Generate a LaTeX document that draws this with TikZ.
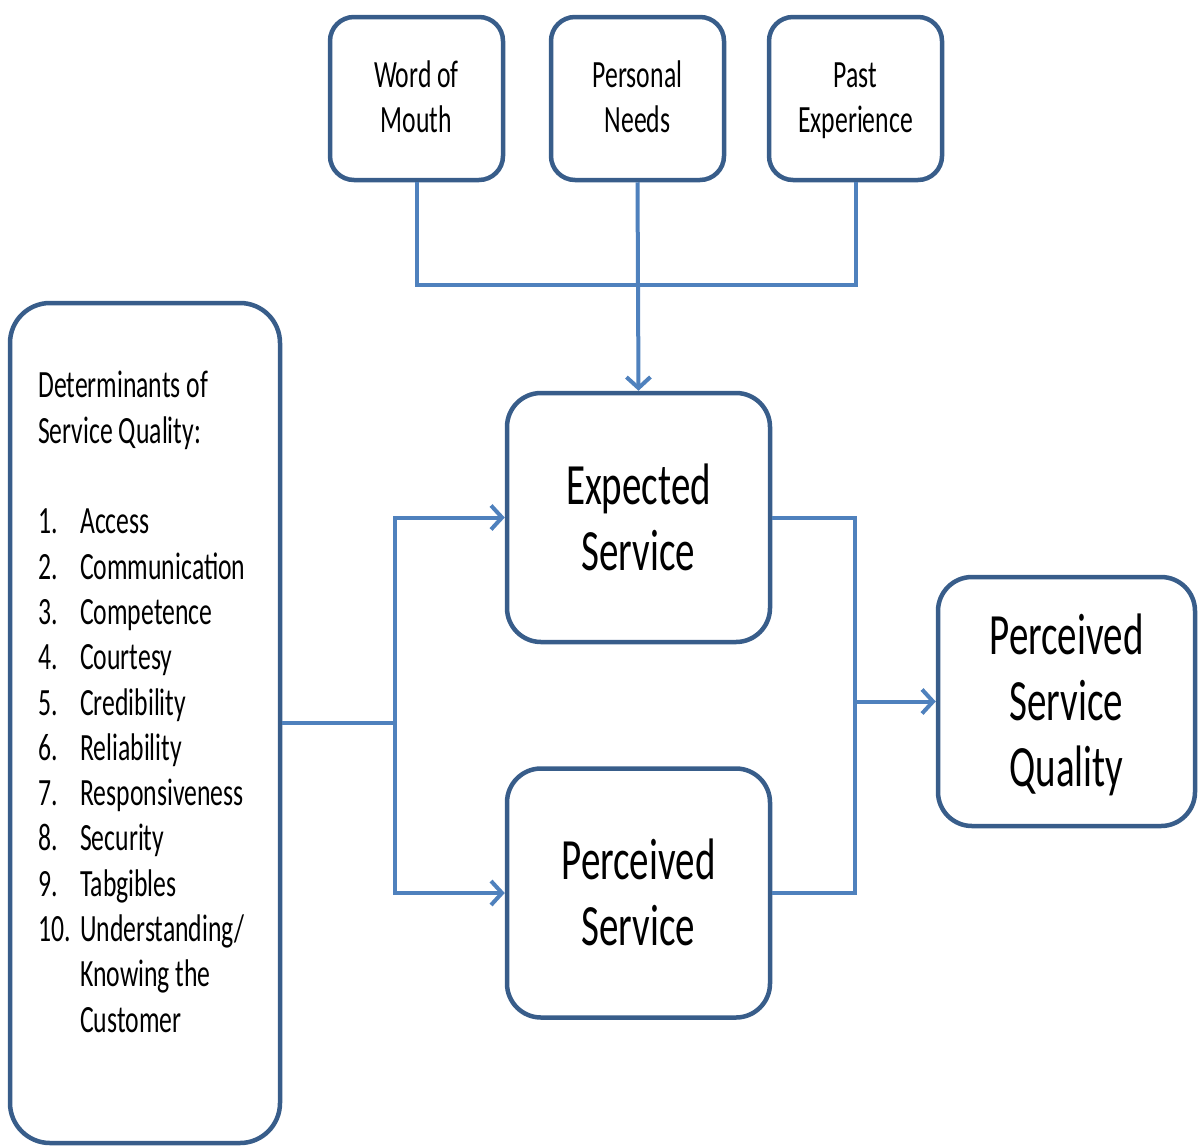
\documentclass[tikz,border=0pt]{standalone}
\usepackage{graphicx}
\usepackage{fontspec}
\setmainfont{Carlito}
\usetikzlibrary{arrows.meta}
\usetikzlibrary{positioning}

\definecolor{boxblue}{RGB}{56,93,138}
\definecolor{linkblue}{RGB}{79,129,189}

\newcommand{\stretched}[2][0pt]{\raisebox{#1}[\height][\depth]{\scalebox{1}[1.5]{\begin{tabular}{@{}c@{}}#2\end{tabular}}}}
\newcommand{\itm}[2]{\makebox[42pt][l]{#1}#2}

\tikzset{
  box/.style={draw=boxblue, line width=4.5pt, fill=white, align=center, inner sep=0pt},
  smallbox/.style={box, rounded corners=24pt, minimum width=173pt, minimum height=163pt,
    font=\fontsize{25.7}{30}\selectfont},
  bigbox/.style={box, rounded corners=34pt, minimum width=263pt, minimum height=249pt,
    font=\fontsize{39}{44}\selectfont},
  link/.style={draw=linkblue, line width=4pt},
  arrowlink/.style={link, -{Straight Barb[length=11pt,width=24pt]}}
}

\begin{document}
\begin{tikzpicture}[x=1pt,y=-1pt]
\useasboundingbox (0,0) rectangle (1198,1146);
% top row
\node [smallbox] (wom) at (416.5,98.5) {\stretched[-2pt]{Word of\\Mouth}};
\node [smallbox] (pn) at (637.5,98.5) {\stretched[-2pt]{Personal\\Needs}};
\node [smallbox] (pe) at (855.5,98.5) {\stretched[-2pt]{Past\\Experience}};
% middle
\node [bigbox] (exp) at (638.5,517.5) {\stretched[-7pt]{Expected\\Service}};
\node [bigbox] (perc) at (638.5,893) {\stretched[-6pt]{Perceived\\Service}};
\node [bigbox, minimum width=257pt] (psq) at (1066.5,701.5) {\stretched[-6pt]{Perceived\\Service\\Quality}};
% determinants
\node [box, rounded corners=40pt, minimum width=270pt, minimum height=840pt] (det) at (145,723) {};
\node [anchor=north west, inner sep=0pt, font=\fontsize{25.7}{30.2}\selectfont] (dettext) at (38,366)
  {\scalebox{1}[1.5]{\begin{tabular}{@{}l@{}}
   Determinants of\\
   Service Quality:\\
   \\
   \itm{1.}{Access}\\
   \itm{2.}{Communication}\\
   \itm{3.}{Competence}\\
   \itm{4.}{Courtesy}\\
   \itm{5.}{Credibility}\\
   \itm{6.}{Reliability}\\
   \itm{7.}{Responsiveness}\\
   \itm{8.}{Security}\\
   \itm{9.}{Tabgibles}\\
   \itm{10.}{Understanding/}\\
   \itm{}{Knowing the}\\
   \itm{}{Customer}
  \end{tabular}}};
% connectors
\coordinate (hub) at (637.5,285);
\coordinate (split) at (395,723);
\coordinate (join) at (855,701.5);
\draw [link] (wom.south) |- (hub) -| (pe.south);
\draw [arrowlink] (pn.south) -- (exp.north);
\draw [link] (det.east) -- (split);
\draw [arrowlink] (split) |- (exp.west);
\draw [arrowlink] (split) |- (perc.west);
\draw [link] (exp.east) -| (join);
\draw [link] (perc.east) -| (join);
\draw [arrowlink] (join) -- (psq.west);
\end{tikzpicture}
\end{document}
